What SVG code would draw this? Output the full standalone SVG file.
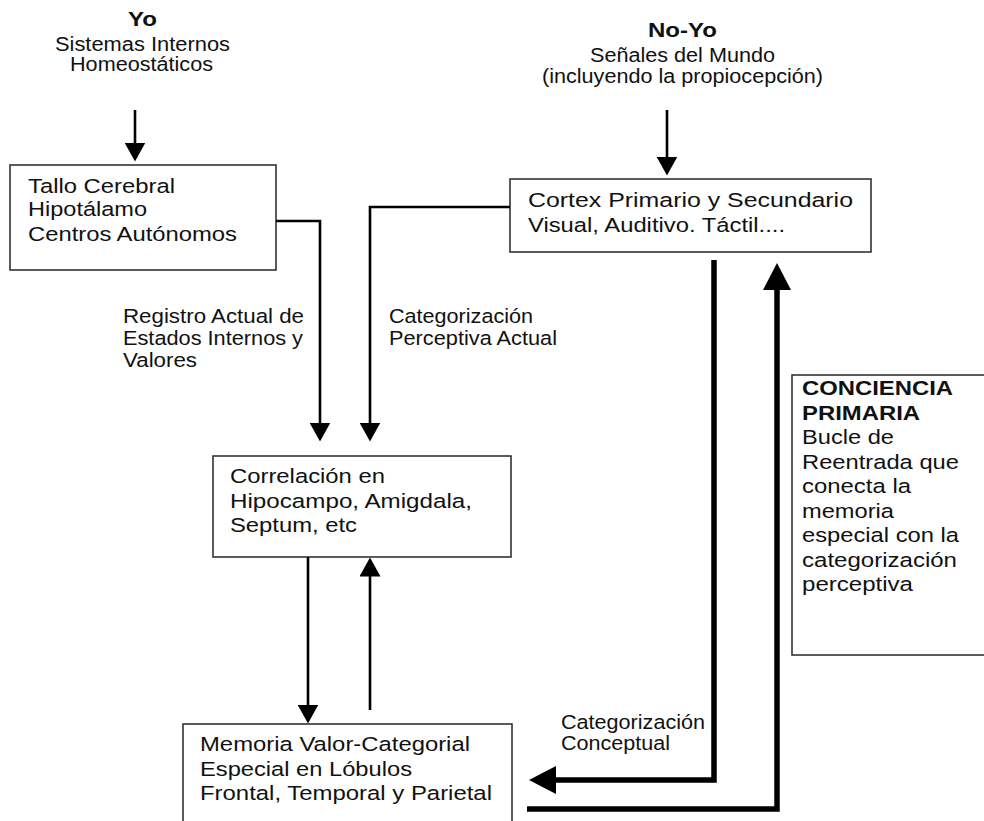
<svg xmlns="http://www.w3.org/2000/svg" width="984" height="821" viewBox="0 0 984 821">
<style>
text{font-family:"Liberation Sans",Arial,sans-serif;fill:#111;font-size:20.5px}
.h{font-size:19.5px}
.b{font-weight:bold}
.box{fill:#fff;stroke:#333;stroke-width:1.6}
.thin{fill:none;stroke:#000;stroke-width:2.6}
.thick{fill:none;stroke:#000;stroke-width:5.5;stroke-linejoin:miter}
</style>
<defs>
<marker id="ah" viewBox="0 0 19 21" refX="0.5" refY="10.5" markerWidth="19" markerHeight="21" markerUnits="userSpaceOnUse" orient="auto"><path d="M0,0 L19,10.5 L0,21 z" fill="#000"/></marker>
<marker id="ahb" viewBox="0 0 27 28" refX="1" refY="14" markerWidth="27" markerHeight="28" markerUnits="userSpaceOnUse" orient="auto"><path d="M0,0 L27,14 L0,28 z" fill="#000"/></marker>
</defs>

<g id="yo">
<text class="h b" x="142.5" y="26" text-anchor="middle" textLength="29" lengthAdjust="spacingAndGlyphs">Yo</text>
<text class="h" x="142.5" y="51" text-anchor="middle" textLength="175" lengthAdjust="spacingAndGlyphs">Sistemas Internos</text>
<text class="h" x="141.5" y="71" text-anchor="middle" textLength="143" lengthAdjust="spacingAndGlyphs">Homeostáticos</text>
</g>

<g id="noyo">
<text class="h b" x="682.5" y="37" text-anchor="middle" textLength="69" lengthAdjust="spacingAndGlyphs">No-Yo</text>
<text class="h" x="682.5" y="62" text-anchor="middle" textLength="185" lengthAdjust="spacingAndGlyphs">Señales del Mundo</text>
<text class="h" x="682.5" y="83" text-anchor="middle" textLength="281" lengthAdjust="spacingAndGlyphs">(incluyendo la propiocepción)</text>
</g>

<g id="tallo">
<rect class="box" x="10" y="165" width="266" height="105"/>
<text x="28" y="193" textLength="147" lengthAdjust="spacingAndGlyphs">Tallo Cerebral</text>
<text x="28" y="216" textLength="119" lengthAdjust="spacingAndGlyphs">Hipotálamo</text>
<text x="28" y="241" textLength="209" lengthAdjust="spacingAndGlyphs">Centros Autónomos</text>
</g>

<g id="cortex">
<rect class="box" x="510" y="179" width="361" height="73"/>
<text x="528" y="207" textLength="325" lengthAdjust="spacingAndGlyphs">Cortex Primario y Secundario</text>
<text x="528" y="232" textLength="257" lengthAdjust="spacingAndGlyphs">Visual, Auditivo. Táctil....</text>
</g>

<g id="correlacion">
<rect class="box" x="213" y="456" width="298" height="101"/>
<text x="230" y="483" textLength="155" lengthAdjust="spacingAndGlyphs">Correlación en</text>
<text x="230" y="508" textLength="242" lengthAdjust="spacingAndGlyphs">Hipocampo, Amigdala,</text>
<text x="230" y="532" textLength="127" lengthAdjust="spacingAndGlyphs">Septum, etc</text>
</g>

<g id="memoria">
<rect class="box" x="183" y="724" width="329" height="110"/>
<text x="200" y="751" textLength="270" lengthAdjust="spacingAndGlyphs">Memoria Valor-Categorial</text>
<text x="200" y="776" textLength="212" lengthAdjust="spacingAndGlyphs">Especial en Lóbulos</text>
<text x="200" y="800" textLength="292" lengthAdjust="spacingAndGlyphs">Frontal, Temporal y Parietal</text>
</g>

<g id="conciencia">
<rect class="box" x="792" y="375" width="200" height="280"/>
<text class="b" x="802" y="395" textLength="151" lengthAdjust="spacingAndGlyphs">CONCIENCIA</text>
<text class="b" x="802" y="419.5" textLength="118" lengthAdjust="spacingAndGlyphs">PRIMARIA</text>
<text x="802" y="444" textLength="92" lengthAdjust="spacingAndGlyphs">Bucle de</text>
<text x="802" y="468.5" textLength="157" lengthAdjust="spacingAndGlyphs">Reentrada que</text>
<text x="802" y="493" textLength="109" lengthAdjust="spacingAndGlyphs">conecta la</text>
<text x="802" y="517.5" textLength="92" lengthAdjust="spacingAndGlyphs">memoria</text>
<text x="802" y="542" textLength="157" lengthAdjust="spacingAndGlyphs">especial con la</text>
<text x="802" y="566.5" textLength="155" lengthAdjust="spacingAndGlyphs">categorización</text>
<text x="802" y="591" textLength="111" lengthAdjust="spacingAndGlyphs">perceptiva</text>
</g>

<g id="connectors">
<path class="thin" d="M135,110 V143" marker-end="url(#ah)"/>
<path class="thin" d="M667,110 V157" marker-end="url(#ah)"/>
<path class="thin" d="M276,221 H320 V423" marker-end="url(#ah)"/>
<path class="thin" d="M510,207 H370 V423" marker-end="url(#ah)"/>
<path class="thin" d="M308,557 V705" marker-end="url(#ah)"/>
<path class="thin" d="M370,710 V576" marker-end="url(#ah)"/>
<path class="thick" d="M714,260 V780 H555" marker-end="url(#ahb)"/>
<path class="thick" d="M527,809 H777 V289" marker-end="url(#ahb)"/>
<g id="connector-labels">
<text x="123" y="323" textLength="181" lengthAdjust="spacingAndGlyphs">Registro Actual de</text>
<text x="123" y="345" textLength="180" lengthAdjust="spacingAndGlyphs">Estados Internos y</text>
<text x="123" y="367" textLength="74" lengthAdjust="spacingAndGlyphs">Valores</text>
<text x="389" y="323" textLength="144" lengthAdjust="spacingAndGlyphs">Categorización</text>
<text x="389" y="345" textLength="168" lengthAdjust="spacingAndGlyphs">Perceptiva Actual</text>
<text x="561" y="729" textLength="144" lengthAdjust="spacingAndGlyphs">Categorización</text>
<text x="561" y="750" textLength="109" lengthAdjust="spacingAndGlyphs">Conceptual</text>
</g>
</g>
</svg>
